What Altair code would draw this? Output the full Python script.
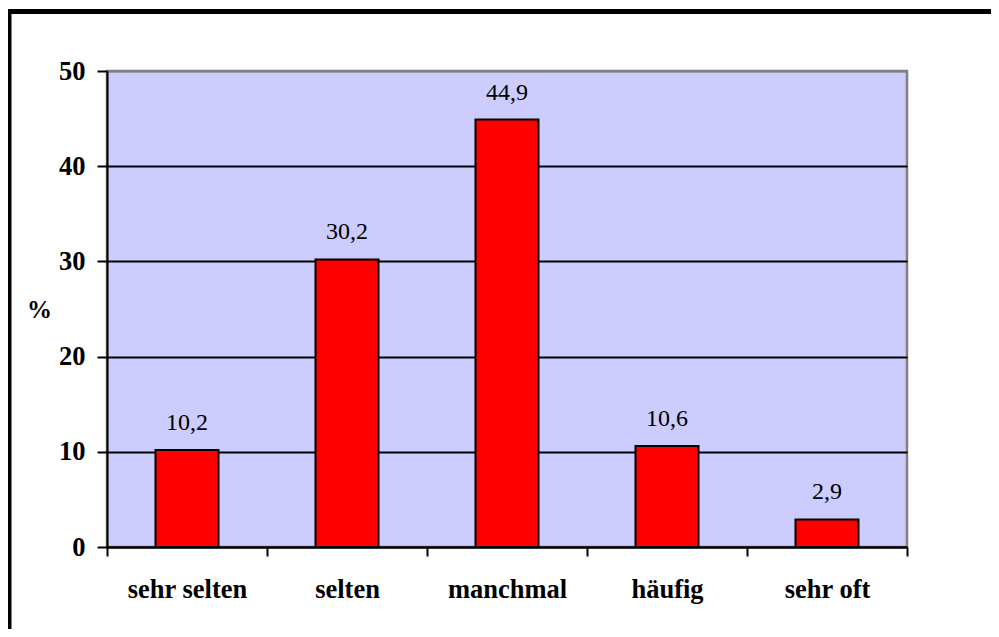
import altair as alt
import pandas as pd

categories = ["sehr selten", "selten", "manchmal", "häufig", "sehr oft"]
values = [10.2, 30.2, 44.9, 10.6, 2.9]
value_labels = ["10,2", "30,2", "44,9", "10,6", "2,9"]
y_ticks = [0, 10, 20, 30, 40, 50]

df = pd.DataFrame({"cat": categories, "val": values, "lab": value_labels})

SERIF = "Liberation Serif"

x_enc = alt.X(
    "cat:N",
    sort=categories,
    scale=alt.Scale(paddingInner=0, paddingOuter=0),
    axis=alt.Axis(
        title=None, labelAngle=0, labelFont=SERIF, labelFontSize=26.5,
        labelFontWeight="bold", labelColor="black", labelBaseline="alphabetic",
        labelPadding=41, tickBand="extent", tickSize=9, tickWidth=2,
        tickColor="black", domainColor="black", domainWidth=2, grid=False,
    ),
)

y_enc = alt.Y(
    "val:Q",
    scale=alt.Scale(domain=[0, 50], nice=False, zero=True),
    axis=alt.Axis(
        values=y_ticks, title="%", titleAngle=0, titleFont=SERIF,
        titleFontSize=25, titleFontWeight="bold", titleColor="black",
        titleX=-68, titleY=238, titleAlign="center", titleBaseline="middle",
        labelFont=SERIF, labelFontSize=26.5, labelFontWeight="bold",
        labelColor="black", labelPadding=12, tickSize=10, tickWidth=2,
        tickColor="black", domainColor="black", domainWidth=2,
        gridColor={"condition": {"test": "datum.value === 50", "value": "#808080"}, "value": "black"},
        gridWidth=2,
    ),
)

bars = alt.Chart(df).mark_bar(
    color="#FF0000", stroke="black", strokeWidth=2, size=63
).encode(x=x_enc, y=y_enc)

labels = alt.Chart(df).mark_text(
    font=SERIF, fontSize=24, baseline="alphabetic", dy=-20, color="black"
).encode(x=alt.X("cat:N", sort=categories), y="val:Q", text="lab:N")

border_top = alt.Chart(alt.Data(values=[{}])).mark_rule(
    color="black", strokeWidth=5
).encode(x=alt.value(-99), x2=alt.value(884), y=alt.value(-59.5))

border_left = alt.Chart(alt.Data(values=[{}])).mark_rule(
    color="black", strokeWidth=4
).encode(x=alt.value(-97.5), y=alt.value(-62), y2=alt.value(560))

chart = alt.layer(bars, labels, border_top, border_left).properties(
    width=800,
    height=476,
    padding={"left": 99, "top": 63, "right": 84, "bottom": 82},
    autosize=alt.AutoSizeParams(type="none"),
    background="white",
).configure_view(
    fill="#CCCCFF", stroke="#808080", strokeWidth=2.5
)

chart.save("out.html", embed_options={"renderer": "svg", "actions": False})
